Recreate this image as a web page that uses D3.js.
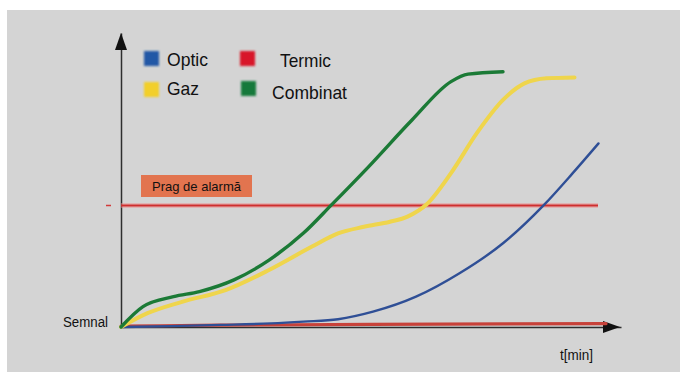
<!DOCTYPE html>
<html>
<head>
<meta charset="utf-8">
<script src="https://cdn.jsdelivr.net/npm/d3@7/dist/d3.min.js"></script>
<style>
  html, body { margin: 0; padding: 0; background: #ffffff; }
  svg { display: block; font-family: "Liberation Sans", Arial, sans-serif; }
</style>
</head>
<body>
<svg id="chart" width="680" height="372"></svg>
<script>
// Time axis (arbitrary minutes, 0–100) and signal level (0–98)
const opticT      = [0, 10, 20, 30, 36.5, 43.4, 50.4, 59, 67.7, 76.4, 84.6, 90.3, 95.5];
const opticSignal = [0, 0.3, 0.7, 1.2, 1.8, 2.6, 5.1, 10.1, 17.9, 27.9, 40.7, 51.2, 61.2];

const termicT      = [0, 20, 50, 97];
const termicSignal = [0.3, 0.6, 0.9, 1.1];

const gazT      = [0, 5.3, 12.2, 20.9, 29.6, 38.2, 43.4, 48.6, 53.8, 57.3, 61.2, 66, 71.2, 76.4, 80.7, 85.1, 90.7];
const gazSignal = [0, 4.6, 8.4, 12.3, 19, 26.8, 31.2, 33.4, 35.1, 36.8, 41, 51.3, 64.7, 75.7, 81.2, 82.9, 83.2];

const combinatT      = [0, 4.4, 10.5, 15.7, 22.6, 29.6, 36.5, 42.1, 49.5, 58.2, 66, 69.4, 76.4];
const combinatSignal = [0, 6.8, 10.1, 11.8, 15.7, 22.3, 31.3, 40.7, 53.4, 69, 81.8, 84.3, 85.1];

const alarmLevel = 40.5;
const alarmStart = -3;
const alarmEnd = 95.4;

const legendNames  = ["Optic", "Termic", "Gaz", "Combinat"];
const legendColors = ["#2259a6", "#d8142c", "#f2cf2c", "#16793a"];

const svg = d3.select("#chart");

// grey panel
svg.append("rect")
  .attr("x", 7).attr("y", 10).attr("width", 673).attr("height", 362)
  .attr("fill", "#d4d4d4");

const defs = svg.append("defs");
defs.append("filter").attr("id", "soft")
  .attr("x", "-30%").attr("y", "-30%").attr("width", "160%").attr("height", "160%")
  .append("feGaussianBlur").attr("stdDeviation", 0.9);

const x = d3.scaleLinear().domain([0, 100]).range([121, 621]);
const y = d3.scaleLinear().domain([0, 98]).range([327, 33]);

const line = d3.line()
  .x(d => x(d[0]))
  .y(d => y(d[1]))
  .curve(d3.curveMonotoneX);

const zip = (a, b) => a.map((v, i) => [v, b[i]]);

// axes (no ticks), with arrow heads
const axisColor = "#2e2e2e";
const gx = svg.append("g").attr("transform", `translate(0,${y(0)})`)
  .call(d3.axisBottom(x).tickValues([]).tickSizeOuter(0));
const gy = svg.append("g").attr("transform", `translate(${x(0)},0)`)
  .call(d3.axisLeft(y).tickValues([]).tickSizeOuter(0));
[gx, gy].forEach(g => g.select(".domain").attr("stroke", axisColor).attr("stroke-width", 1.5));

svg.append("path")
  .attr("d", `M${x(0)},${y(98)} L${x(0) - 6},${y(98) + 17} L${x(0) + 6},${y(98) + 17} Z`)
  .attr("fill", "#111");
svg.append("path")
  .attr("d", `M${x(99.8)},${y(0)} L${x(99.8) - 17},${y(0) - 6} L${x(99.8) - 17},${y(0) + 6} Z`)
  .attr("fill", "#111");

// alarm threshold
svg.append("line")
  .attr("x1", x(0)).attr("x2", x(alarmEnd))
  .attr("y1", y(alarmLevel)).attr("y2", y(alarmLevel))
  .attr("stroke", "#f08a8a").attr("stroke-width", 5).attr("opacity", 0.45);
svg.append("line")
  .attr("x1", x(alarmStart)).attr("x2", x(alarmStart) + 5)
  .attr("y1", y(alarmLevel)).attr("y2", y(alarmLevel))
  .attr("stroke", "#d23a3a").attr("stroke-width", 1.5);
svg.append("line")
  .attr("x1", x(0)).attr("x2", x(alarmEnd))
  .attr("y1", y(alarmLevel)).attr("y2", y(alarmLevel))
  .attr("stroke", "#cf2e2e").attr("stroke-width", 1.8);

svg.append("rect")
  .attr("x", 141).attr("y", 175).attr("width", 111).attr("height", 22)
  .attr("fill", "#e2744f");
svg.append("text")
  .attr("x", 152).attr("y", 191)
  .attr("font-size", 13.5).attr("fill", "#111")
  .attr("textLength", 89).attr("lengthAdjust", "spacingAndGlyphs")
  .text("Prag de alarmă");

// series
const series = [
  { t: termicT,   s: termicSignal,   color: "#c8423a", width: 3.2 },
  { t: opticT,    s: opticSignal,    color: "#2f4f96", width: 2.4 },
  { t: gazT,      s: gazSignal,      color: "#efd54c", width: 4 },
  { t: combinatT, s: combinatSignal, color: "#1b7a36", width: 3.4 }
];
series.forEach(d => {
  svg.append("path")
    .datum(zip(d.t, d.s))
    .attr("d", line)
    .attr("fill", "none")
    .attr("stroke", d.color)
    .attr("stroke-width", d.width)
    .attr("stroke-linecap", "round")
    .attr("stroke-linejoin", "round");
});

// legend
const legendPos = [
  { sx: 144, sy: 51, tx: 167, ty: 66, w: 41 },
  { sx: 240, sy: 51, tx: 280, ty: 67, w: 51 },
  { sx: 144, sy: 82, tx: 167, ty: 95, w: 32 },
  { sx: 241, sy: 81, tx: 272, ty: 99, w: 75 }
];
legendNames.forEach((name, i) => {
  const p = legendPos[i];
  svg.append("rect")
    .attr("x", p.sx).attr("y", p.sy).attr("width", 15).attr("height", 15)
    .attr("fill", legendColors[i]).attr("filter", "url(#soft)");
  svg.append("text")
    .attr("x", p.tx).attr("y", p.ty)
    .attr("font-size", 19).attr("fill", "#111")
    .attr("textLength", p.w).attr("lengthAdjust", "spacingAndGlyphs")
    .text(name);
});

// axis captions
svg.append("text")
  .attr("x", 63).attr("y", 327)
  .attr("font-size", 14).attr("fill", "#111")
  .attr("textLength", 45).attr("lengthAdjust", "spacingAndGlyphs")
  .text("Semnal");
svg.append("text")
  .attr("x", 560).attr("y", 360)
  .attr("font-size", 14).attr("fill", "#111")
  .attr("textLength", 33).attr("lengthAdjust", "spacingAndGlyphs")
  .text("t[min]");
</script>
</body>
</html>
